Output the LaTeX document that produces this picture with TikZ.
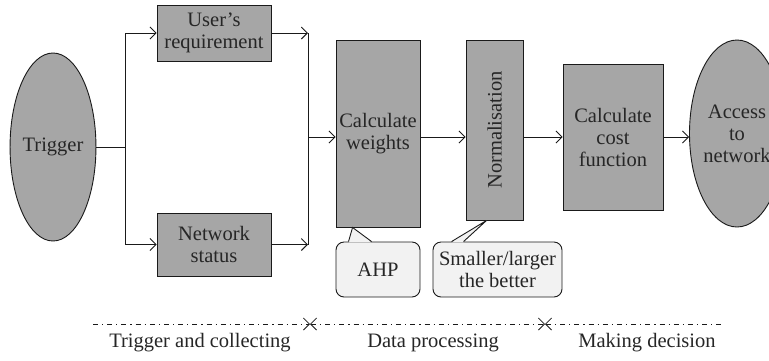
\documentclass[tikz,border=0pt]{standalone}
\usepackage{fontspec}
\setmainfont{Liberation Serif}
\usetikzlibrary{arrows.meta,shapes.geometric,calc}
\definecolor{boxgray}{HTML}{A6A6A6}
\definecolor{callgray}{HTML}{F2F2F2}
\definecolor{txtc}{HTML}{262626}
\definecolor{linec}{HTML}{1A1A1A}
\begin{document}
\begin{tikzpicture}[x=1pt,y=-1pt, font=\fontsize{20.5}{22}\selectfont, text=txtc,
  box/.style={draw=linec, fill=boxgray, line width=0.9pt, inner sep=0pt, align=center},
  ell/.style={ellipse, draw=linec, fill=boxgray, line width=0.9pt, inner sep=0pt, align=center},
  callbox/.style={draw=linec, fill=callgray, rounded corners=8pt, line width=0.9pt, inner sep=0pt, align=center},
  wire/.style={draw=linec, line width=0.9pt},
  arr/.style={wire, -{Straight Barb[length=6pt,width=12pt]}},
  phase/.style={draw=linec, line width=0.8pt, dash pattern=on 5pt off 4pt on 1.2pt off 4pt},
  barb/.tip={Straight Barb[length=6pt,width=12pt]},
  lbl/.style={inner sep=0pt}]
\useasboundingbox (0,0) rectangle (769,360);
\clip (0,0) rectangle (769,360);

% nodes
\node[ell, minimum width=80pt, minimum height=188pt] (trig) at (53,147) {Trigger};
\node[box, minimum width=114pt, minimum height=56pt] (user) at (214,33) {User's\\requirement};
\node[box, minimum width=114pt, minimum height=63pt] (net) at (214,244.5) {Network\\status};
\node[box, minimum width=84pt, minimum height=187pt] (calcw) at (378,133.5) {Calculate\\weights};
\node[box, minimum width=57pt, minimum height=180pt] (norm) at (494.5,130) {};
\node[rotate=90, inner sep=0pt] (normt) at (norm.center) {Normalisation};
\node[box, minimum width=100pt, minimum height=146pt] (cost) at (613,137) {Calculate\\cost\\function};
\node[ell, minimum width=86pt, minimum height=187pt] (acc) at (737,133.5) {Access\\to\\network};

% callouts
\node[callbox, minimum width=84pt, minimum height=55pt] (ahp) at (378,269.5) {AHP};
\node[callbox, minimum width=129pt, minimum height=55pt] (slt) at (497.5,269.5) {Smaller/larger\\the better};
\fill[callgray] ($(ahp.north west)+(13.4,0.9)$) -- ($(calcw.south west)+(17,0)$) -- ($(ahp.north west)+(35.6,0.9)$) -- cycle;
\draw[wire, line join=miter] ($(ahp.north west)+(13,0)$) -- ($(calcw.south west)+(17,0)$) -- ($(ahp.north west)+(36,0)$);
\fill[callgray] ($(slt.north west)+(19.4,0.9)$) -- ($(norm.south west)+(21,0)$) -- ($(slt.north west)+(30.6,0.9)$) -- cycle;
\draw[wire, line join=miter] ($(slt.north west)+(19,0)$) -- ($(norm.south west)+(21,0)$) -- ($(slt.north west)+(31,0)$);

% connectors
\coordinate (j1) at (125,0);
\draw[wire] (trig.east) -- (trig.east -| j1);
\draw[wire] (j1 |- user.west) -- (j1 |- net.west);
\draw[arr] (j1 |- user.west) -- (user.west);
\draw[arr] (j1 |- net.west) -- (net.west);
\coordinate (j2) at (308,0);
\draw[arr] (user.east) -- (user.east -| j2);
\draw[arr] (net.east) -- (net.east -| j2);
\draw[wire] (j2 |- user.east) -- (j2 |- net.east);
\draw[arr] (j2 |- cost.west) -- (calcw.west |- cost.west);
\draw[arr] (calcw.east |- cost.west) -- (norm.west |- cost.west);
\draw[arr] (norm.east |- cost.west) -- (cost.west);
\draw[arr] (cost.east) -- (acc.west |- cost.east);

% phases
\coordinate (p0) at (93,324);
\coordinate (p1) at (310,324);
\coordinate (p2) at (545,324);
\coordinate (p3) at (725,324);
\draw[phase, -barb] (p0) -- (p1);
\draw[phase, barb-barb] (p1) -- (p2);
\draw[phase, barb-] (p2) -- (p3);
\node[lbl] (l1) at (200,343) {Trigger and collecting};
\node[lbl] (l2) at (433,343) {Data processing};
\node[lbl] (l3) at (647,343) {Making decision};
\end{tikzpicture}
\end{document}
